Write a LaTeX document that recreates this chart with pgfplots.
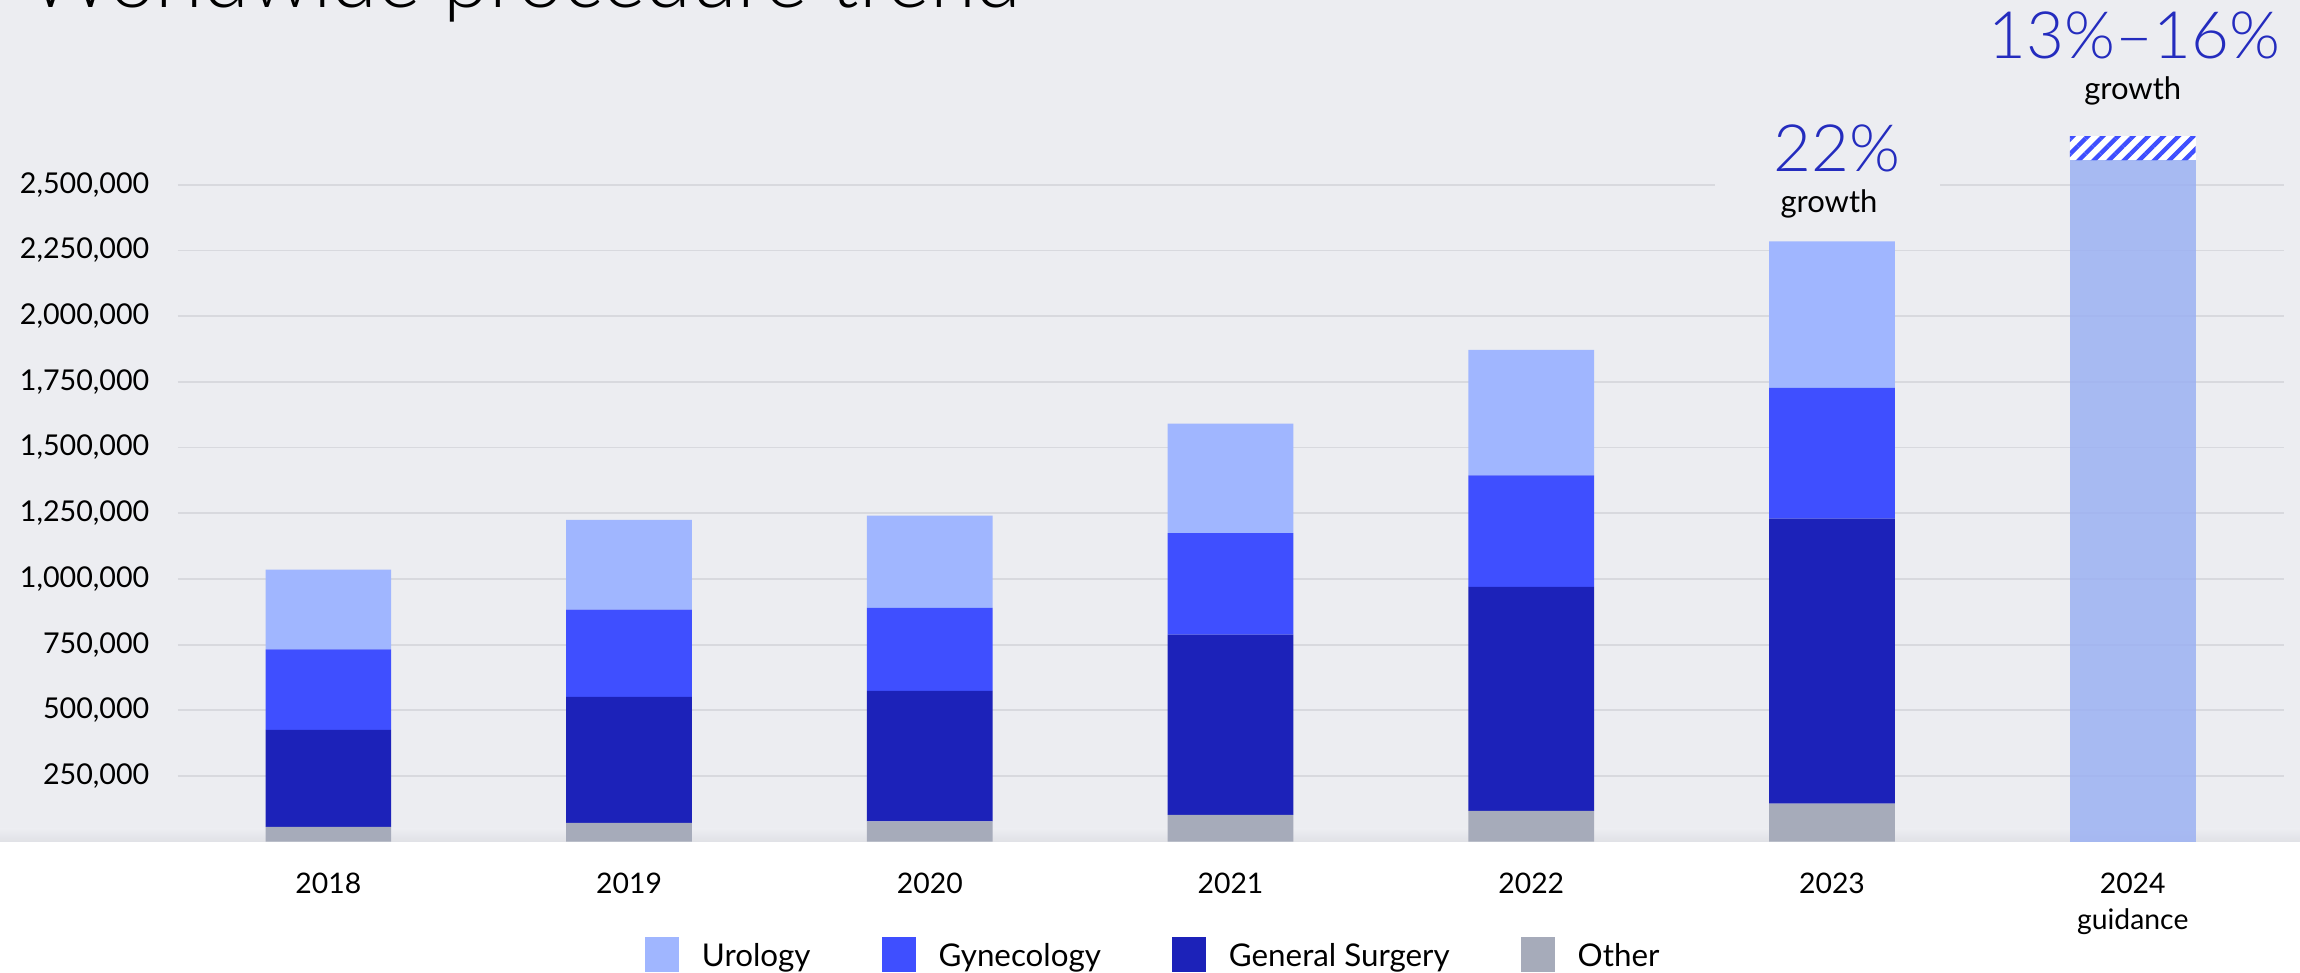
\documentclass[border=0pt]{standalone}
\usepackage{fontspec}
\setmainfont{Lato}
\newfontfamily\lightfont{Lato Light}
\usepackage{pgfplots}
\usepackage{pgfplotstable}
\pgfplotsset{compat=1.18}
\usetikzlibrary{patterns.meta}
\definecolor{bg}{RGB}{236,237,241}
\definecolor{uro}{RGB}{160,182,255}
\definecolor{gyn}{RGB}{63,79,255}
\definecolor{gen}{RGB}{28,34,185}
\definecolor{oth}{RGB}{166,171,186}
\definecolor{guid}{RGB}{153,175,243}
\definecolor{gridc}{RGB}{216,217,222}
\definecolor{pct}{RGB}{36,44,190}
\definecolor{shadec}{RGB}{224,225,230}

\pgfplotstableread{
x other general gyn uro guide hatch
0 56000 370000 306000 303000 0 0
1 72000 479000 332000 342000 0 0
2 77000 497000 316000 351000 0 0
3 102000 686000 386000 417000 0 0
4 117000 853000 424000 478000 0 0
5 145000 1084000 498000 557000 0 0
6 0 0 0 0 2594000 91000
}\datatable

\begin{document}
\begin{tikzpicture}[x=1pt,y=1pt]
\path[use as bounding box] (0,0) rectangle (690,291.6);
\fill[white] (0,0) rectangle (690,291.6);
\fill[bg] (0,39.09) rectangle (690,291.6);
\shade[top color=bg,bottom color=shadec] (0,39.09) rectangle (690,42.9);
\node[anchor=base west, inner sep=0pt, font=\lightfont\fontsize{25}{30}\selectfont] at (8.4,289.35) {Worldwide procedure trend};
\begin{axis}[
  at={(53.4pt,39.09pt)}, anchor=south west,
  scale only axis, width=631.8pt, height=216.8pt,
  xmin=-0.5, xmax=6.503, ymin=0, ymax=2750000,
  clip=false,
  ybar stacked, bar width=0.418,
  axis line style={draw=none},
  tick style={draw=none},
  ymajorgrids, grid style={gridc, line width=0.55pt},
  ytick={250000,500000,750000,1000000,1250000,1500000,1750000,2000000,2250000,2500000},
  scaled y ticks=false,
  yticklabel style={/pgf/number format/fixed, /pgf/number format/1000 sep={,}, /pgf/number format/assume math mode=true, font=\fontsize{8.6}{10}\selectfont, anchor=east, inner sep=0pt, xshift=-8.4pt},
  xtick={0,1,2,3,4,5,6},
  xticklabels={2018,2019,2020,2021,2022,2023,{2024\\guidance}},
  xticklabel style={font=\fontsize{8.5}{10.7}\selectfont, align=center, anchor=north, inner sep=0pt, yshift=-9.2pt},
  legend columns=4,
  legend cell align=left,
  legend image code/.code={\fill[#1] (0pt,-1.5pt) rectangle (10.2pt,9pt);},
  legend style={at={(0.2217,-0.1312)}, anchor=north west, draw=none, fill=none, inner sep=0pt, outer sep=0pt,
    font=\fontsize{9.4}{11}\selectfont,
    nodes={inner sep=0pt},
    cells={anchor=base west},
    /tikz/every odd column/.append style={column sep=6.9pt},
    /tikz/every even column/.append style={column sep=21.3pt}},
]
\addlegendimage{draw=none, fill=uro}
\addlegendimage{draw=none, fill=gyn}
\addlegendimage{draw=none, fill=gen}
\addlegendimage{draw=none, fill=oth}
\legend{Urology,Gynecology,General Surgery,Other}
\addplot[draw=none, fill=oth] table[x=x,y=other] {\datatable};
\addplot[draw=none, fill=gen] table[x=x,y=general] {\datatable};
\addplot[draw=none, fill=gyn] table[x=x,y=gyn] {\datatable};
\addplot[draw=none, fill=uro] table[x=x,y=uro] {\datatable};
\addplot[draw=none, fill=guid, fill opacity=0.82] table[x=x,y=guide] {\datatable};
\addplot[draw=none, fill=white, postaction={pattern={Lines[angle=45,distance=3.2pt,line width=1.3pt]}, pattern color=gyn}] table[x=x,y=hatch] {\datatable};

\node[anchor=base, fill=bg, inner ysep=4.5pt, inner xsep=0pt, minimum width=67.5pt, text=pct, font=\lightfont\fontsize{19.6}{22}\selectfont] at (axis cs:4.986,2549000) {\hspace*{2.85pt}22\%\hspace*{-2.85pt}};
\node[anchor=base, inner sep=0pt, font=\fontsize{9.3}{11}\selectfont] at (axis cs:4.99,2393000) {growth};
\node[anchor=base, inner sep=0pt, text=pct, font=\lightfont\fontsize{19.6}{22}\selectfont] at (axis cs:6.005,2981000) {13\%–16\%};
\node[anchor=base, inner sep=0pt, font=\fontsize{9.3}{11}\selectfont] at (axis cs:6.0,2822700) {growth};
\end{axis}
\end{tikzpicture}
\end{document}
